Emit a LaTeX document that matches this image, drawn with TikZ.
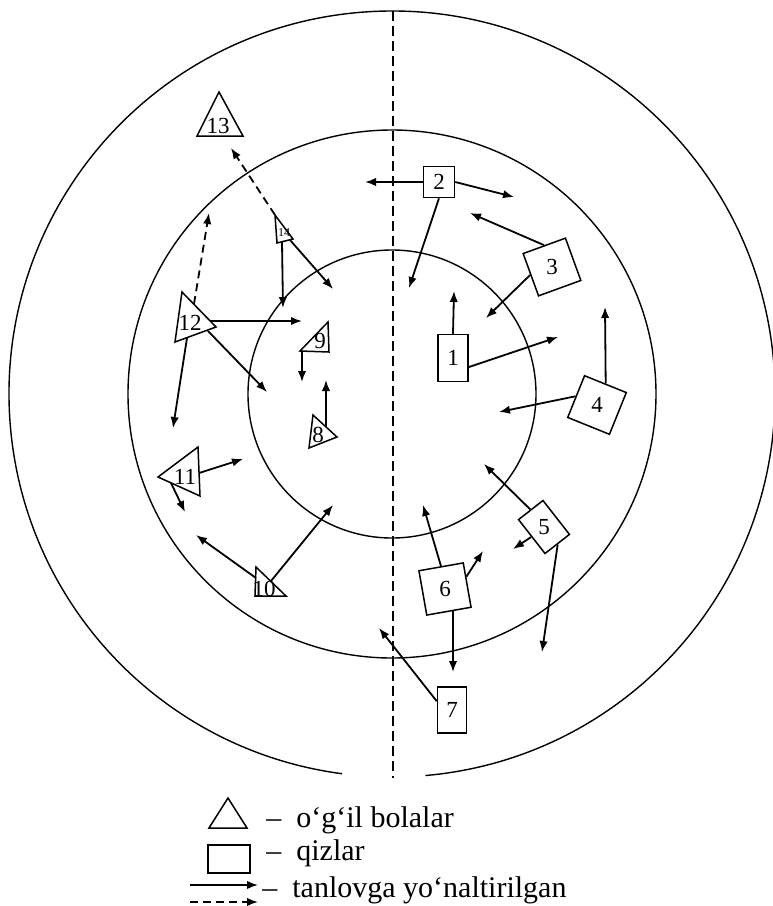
\documentclass[tikz,border=0pt]{standalone}
\usepackage{fontspec}
\setmainfont{Liberation Serif}
\usetikzlibrary{arrows.meta}

\tikzset{
  ring/.style={line width=0.7pt},
  girl/.style={draw, line width=0.75pt, fill=white, inner sep=0pt, minimum size=22.5pt, font=\fontsize{11.5}{11.5}\selectfont},
  boy/.style={draw, line width=0.75pt, line join=miter},
  num/.style={inner sep=0pt, font=\fontsize{11.5}{11.5}\selectfont},
  choice/.style={-{Latex[length=5.5pt,width=4.2pt]}, line width=0.9pt},
  maybe/.style={choice, dash pattern=on 4pt off 2.5pt},
  legendtext/.style={anchor=base west, inner sep=0pt, font=\fontsize{15}{17}\selectfont}
}

\begin{document}
\begin{tikzpicture}[x=0.5pt,y=-0.5pt]
\useasboundingbox (0,0) rectangle (772,906);

% the three rings and the middle line
\coordinate (o) at (392,394);
\draw[ring] (o) circle[radius=72pt];
\draw[ring] (o) circle[radius=132pt];
\draw[ring] (o) ++(275:191.5pt) arc[start angle=275, end angle=622.5, radius=191.5pt];
\draw[line width=0.6pt, dash pattern=on 5pt off 2.5pt] (393,11) -- (393,778);

% qizlar
\node[girl, minimum width=15pt, minimum height=23.5pt] (g1) at (453,358) {1};
\node[girl, minimum size=15.5pt] (g2) at (439,182) {2};
\node[girl, rotate=20] (g3) at (552,267) {\rotatebox{-20}{3}};
\node[girl, rotate=-22] (g4) at (597,405) {\rotatebox{22}{4}};
\node[girl, rotate=38, minimum width=15.5pt, minimum height=21.5pt] (g5) at (544,527) {\rotatebox{-38}{5}};
\node[girl, rotate=10] (g6) at (445,589) {\rotatebox{-10}{6}};
\node[girl, minimum width=14.5pt, minimum height=23pt] (g7) at (452,710) {7};

% o'g'il bolalar
\draw[boy] (219,92) -- (197,136) -- (243,136) -- cycle;
\node[num] (b13) at (218,126) {13};
\draw[boy] (275,215) -- (277,243) -- (293,239) -- cycle;
\node[num, font=\fontsize{6}{6}\selectfont] (b14) at (284,233) {14};
\draw[boy] (182,292) -- (216,327) -- (175,342) -- cycle;
\node[num] (b12) at (190,323) {12};
\draw[boy] (328,322) -- (329,352) -- (300,351) -- cycle;
\node[num] (b9) at (320,341) {9};
\draw[boy] (313,415) -- (337,437) -- (309,448) -- cycle;
\node[num] (b8) at (318,435) {8};
\draw[boy] (158,477) -- (198,447) -- (200,496) -- cycle;
\node[num] (b11) at (185,477) {11};
\draw[boy] (256,567) -- (286,596) -- (255,596) -- cycle;
\node[num] (b10) at (264,589) {10};

% where the arrows leave the triangles
\coordinate (s8) at (326,427);
\coordinate (s9) at (302,351);
\coordinate (s10a) at (256,578);
\coordinate (s10b) at (271,581);
\coordinate (s11a) at (199,473);
\coordinate (s11b) at (171,483);
\coordinate (s12a) at (210,321);
\coordinate (s12b) at (208,331);
\coordinate (s12c) at (187,338);
\coordinate (s12d) at (194,304);
\coordinate (s14a) at (282,242);
\coordinate (s14b) at (290,240);
\coordinate (s14c) at (275,215);

% where they point
\coordinate (e1a) at (454,291);
\coordinate (e1b) at (558,337);
\coordinate (e2a) at (365,182);
\coordinate (e2b) at (514,197);
\coordinate (e2c) at (409,288);
\coordinate (e3a) at (470,213);
\coordinate (e3b) at (486,318);
\coordinate (e4a) at (605,307);
\coordinate (e4b) at (499,412);
\coordinate (e5a) at (484,464);
\coordinate (e5b) at (513,549);
\coordinate (e5c) at (542,652);
\coordinate (e6a) at (423,505);
\coordinate (e6b) at (483,551);
\coordinate (e6c) at (453,672);
\coordinate (e7a) at (379,628);
\coordinate (e8a) at (326,380);
\coordinate (e9a) at (302,382);
\coordinate (e10a) at (196,535);
\coordinate (e10b) at (333,505);
\coordinate (e11a) at (243,459);
\coordinate (e11b) at (185,512);
\coordinate (e12a) at (302,321);
\coordinate (e12b) at (267,392);
\coordinate (e12c) at (173,428);
\coordinate (e12d) at (209,213);
\coordinate (e14a) at (283,308);
\coordinate (e14b) at (333,289);
\coordinate (e14c) at (231,148);

\draw[choice] (g1.north) -- (e1a);
\draw[choice] (g1.-30) -- (e1b);
\draw[choice] (g2.west) -- (e2a);
\draw[choice] (g2.east) -- (e2b);
\draw[choice] (g2.south) -- (e2c);
\draw[choice] (g3.north) -- (e3a);
\draw[choice] (g3.west) -- (e3b);
\draw[choice] (g4.north) -- (e4a);
\draw[choice] (g4.west) -- (e4b);
\draw[choice] (g5.north) -- (e5a);
\draw[choice] (g5.west) -- (e5b);
\draw[choice] (g5.south) -- (e5c);
\draw[choice] (g6.north) -- (e6a);
\draw[choice] (g6.20) -- (e6b);
\draw[choice] (g6.-80) -- (e6c);
\draw[choice] (g7.150) -- (e7a);
\draw[choice] (s8) -- (e8a);
\draw[choice] (s9) -- (e9a);
\draw[choice] (s10a) -- (e10a);
\draw[choice] (s10b) -- (e10b);
\draw[choice] (s11a) -- (e11a);
\draw[choice] (s11b) -- (e11b);
\draw[choice] (s12a) -- (e12a);
\draw[choice] (s12b) -- (e12b);
\draw[choice] (s12c) -- (e12c);
\draw[maybe] (s12d) -- (e12d);
\draw[choice] (s14a) -- (e14a);
\draw[choice] (s14b) -- (e14b);
\draw[maybe] (s14c) -- (e14c);

% legend
\draw[boy] (228,798) -- (209,828) -- (247,828) -- cycle;
\node[girl, minimum width=21pt, minimum height=14pt] (lg) at (229,859) {};
\coordinate (l1) at (190,885);
\coordinate (l2) at (258,885);
\coordinate (l3) at (190,902);
\coordinate (l4) at (258,902);
\draw[choice] (l1) -- (l2);
\draw[maybe] (l3) -- (l4);
\node[legendtext] (k1) at (266,827) {\textendash\enspace o‘g‘il bolalar};
\node[legendtext] (k2) at (266,860) {\textendash\enspace qizlar};
\node[legendtext] (k3) at (262,897) {\textendash\enspace tanlovga yo‘naltirilgan};
\end{tikzpicture}
\end{document}
